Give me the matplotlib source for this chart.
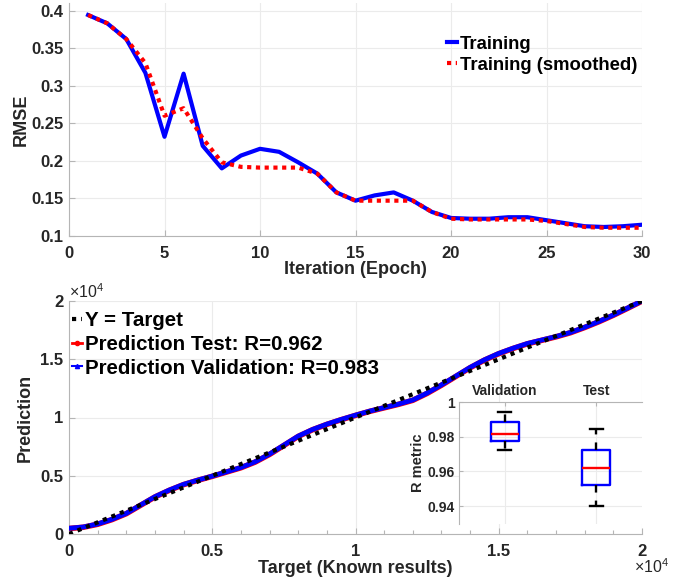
import matplotlib
matplotlib.use("Agg")
import matplotlib.pyplot as plt
from matplotlib.lines import Line2D
from matplotlib.ticker import FuncFormatter, MultipleLocator

plt.rcParams['font.family'] = ['Liberation Sans', 'DejaVu Sans']
plt.rcParams['font.weight'] = 'bold'
plt.rcParams['mathtext.default'] = 'regular'

# ---------------- data ----------------
epochs = list(range(1, 31))
rmse_train = [0.394, 0.383, 0.362, 0.317, 0.232, 0.316, 0.220, 0.190, 0.207, 0.216,
              0.212, 0.198, 0.183, 0.158, 0.147, 0.154, 0.158, 0.147, 0.132, 0.124,
              0.123, 0.123, 0.125, 0.125, 0.121, 0.117, 0.113, 0.112, 0.113, 0.115]
rmse_smooth = [0.394, 0.383, 0.362, 0.330, 0.260, 0.270, 0.230, 0.198, 0.192, 0.191,
               0.191, 0.191, 0.183, 0.158, 0.147, 0.147, 0.147, 0.147, 0.132, 0.123,
               0.122, 0.122, 0.122, 0.122, 0.120, 0.116, 0.112, 0.111, 0.111, 0.111]

target = [0, 500, 1000, 1500, 2000, 2500, 3000, 3500, 4000, 4500, 5000,
          5500, 6000, 6500, 7000, 7500, 8000, 8500, 9000, 9500, 10000,
          10500, 11000, 11500, 12000, 12500, 13000, 13500, 14000, 14500, 15000,
          15500, 16000, 16500, 17000, 17500, 18000, 18500, 19000, 19500, 20000]
pred_validation = [490, 600, 860, 1260, 1770, 2490, 3200, 3770, 4260, 4630, 4970,
                   5340, 5710, 6200, 6860, 7630, 8400, 8970, 9430, 9830, 10200,
                   10550, 10850, 11150, 11500, 12100, 12800, 13550, 14300, 14950, 15500,
                   15950, 16350, 16650, 16950, 17300, 17750, 18250, 18800, 19400, 20000]
pred_test = [470, 580, 835, 1235, 1745, 2465, 3180, 3750, 4240, 4610, 4950,
             5320, 5685, 6175, 6830, 7600, 8375, 8950, 9410, 9810, 10180,
             10530, 10830, 11130, 11475, 12070, 12770, 13520, 14270, 14925, 15475,
             15925, 16325, 16625, 16925, 17275, 17725, 18225, 18775, 19375, 19990]
ideal = [0, 20000]

box_labels = ['Validation', 'Test']
box_whislo = [0.9726, 0.9402]
box_q1 = [0.9777, 0.9524]
box_med = [0.9817, 0.9617]
box_q3 = [0.9887, 0.9726]
box_whishi = [0.9941, 0.9844]

# ---------------- style ----------------
SPINE = '#b5b5b5'
GRID = '#ebebeb'
TXT = '#262626'

def style(ax, size=12):
    for s in ['top', 'right']:
        ax.spines[s].set_visible(False)
    for s in ['left', 'bottom']:
        ax.spines[s].set_color(SPINE)
    ax.tick_params(direction='in', length=4, color=SPINE, labelcolor=TXT,
                   labelsize=size, width=0.8)
    ax.tick_params(axis='x', pad=7)
    ax.tick_params(axis='y', pad=4)
    ax.grid(True, color=GRID, lw=0.8)
    ax.set_axisbelow(True)

gfmt = FuncFormatter(lambda v, p: '%g' % round(v, 4))
e4fmt = FuncFormatter(lambda v, p: '%g' % round(v / 1e4, 4))

fig = plt.figure(figsize=(6.97, 5.82), dpi=100)
W, H = 697.0, 582.0
ax1 = fig.add_axes([69 / W, 1 - 236 / H, 573 / W, 233 / H])
ax2 = fig.add_axes([69 / W, 1 - 534 / H, 573 / W, 233 / H])
ax3 = fig.add_axes([459 / W, 1 - 523.5 / H, 183 / W, 121.5 / H])

# ---------------- top plot ----------------
style(ax1)
ax1.plot(epochs, rmse_train, color='blue', lw=3, label='Training', zorder=3)
ax1.plot(epochs, rmse_smooth, color='red', lw=3, linestyle=(0, (1, 1.1)),
         dash_capstyle='butt', label='Training (smoothed)', zorder=4)
ax1.set_xlim(0, 30)
ax1.set_ylim(0.1, 0.41)
ax1.set_xticks(range(0, 31, 5))
ax1.set_yticks([0.1, 0.15, 0.2, 0.25, 0.3, 0.35, 0.4])
ax1.yaxis.set_major_formatter(gfmt)
ax1.set_xlabel('Iteration (Epoch)', fontsize=13, fontweight='bold', color=TXT, labelpad=0)
ax1.set_ylabel('RMSE', fontsize=13, fontweight='bold', color=TXT, labelpad=1)
ax1.legend(loc='upper left', bbox_to_anchor=(0.66, 0.86), frameon=False,
           handlelength=0.55, handletextpad=0.12, labelspacing=0.22,
           borderpad=0, borderaxespad=0, prop={'weight': 'bold', 'size': 13.3})

# ---------------- bottom plot ----------------
style(ax2)
l_test, = ax2.plot(target, pred_test, color='red', lw=4.0, zorder=3)
l_val, = ax2.plot(target, pred_validation, color='blue', lw=3.5, zorder=4)
l_id, = ax2.plot(ideal, ideal, color='black', lw=3, linestyle=(0, (1, 1.2)),
                 dash_capstyle='butt', zorder=5)
ax2.set_xlim(0, 20000)
ax2.set_ylim(0, 20000)
ax2.set_xticks([0, 5000, 10000, 15000, 20000])
ax2.set_yticks([0, 5000, 10000, 15000, 20000])
ax2.xaxis.set_minor_locator(MultipleLocator(1000))
ax2.tick_params(which='minor', direction='in', length=3, color=SPINE, width=0.8)
ax2.xaxis.set_major_formatter(e4fmt)
ax2.yaxis.set_major_formatter(e4fmt)
ax2.set_xlabel('Target (Known results)', fontsize=13, fontweight='bold', color=TXT, labelpad=1)
ax2.set_ylabel('Prediction', fontsize=13, fontweight='bold', color=TXT, labelpad=5)
ax2.text(0.0, 0.998, '×10$^{4}$', transform=ax2.transAxes, ha='left', va='bottom',
         fontsize=11.5, fontweight='normal', color=TXT)
ax2.text(1.016, -0.142, '×10$^{4}$', transform=ax2.transAxes, ha='center', va='center',
         fontsize=11.5, fontweight='normal', color=TXT)

h_id = Line2D([], [], color='black', lw=3, linestyle=(0, (1, 1.2)), dash_capstyle='butt')
h_test = Line2D([], [], color='red', lw=2, marker='o', markersize=3)
h_val = Line2D([], [], color='blue', lw=1.5, marker='^', markersize=3)
ax2.legend([h_id, h_test, h_val],
           ['Y = Target', 'Prediction Test: R=0.962', 'Prediction Validation: R=0.983'],
           loc='upper left', bbox_to_anchor=(0.005, 0.955), frameon=False,
           handlelength=0.5, handletextpad=0.12, labelspacing=0.22,
           borderpad=0, borderaxespad=0, prop={'weight': 'bold', 'size': 14.8})

# ---------------- inset boxplot ----------------
ax3.set_facecolor('white')
ax3.set_zorder(10)
for s in ['bottom', 'right']:
    ax3.spines[s].set_visible(False)
for s in ['left', 'top']:
    ax3.spines[s].set_color(SPINE)
ax3.grid(True, color=GRID, lw=0.8)
ax3.set_axisbelow(True)
stats = []
for i in range(2):
    stats.append(dict(label=box_labels[i], whislo=box_whislo[i], q1=box_q1[i],
                      med=box_med[i], q3=box_q3[i], whishi=box_whishi[i], fliers=[]))
ax3.bxp(stats, positions=[1, 2], widths=0.31, capwidths=0.14, showfliers=False,
        boxprops=dict(color='blue', lw=1.7),
        medianprops=dict(color='red', lw=1.7),
        whiskerprops=dict(color='black', lw=1.7, linestyle=(0, (3.2, 3.4))),
        capprops=dict(color='black', lw=1.7))
ax3.set_xlim(0.5, 2.5)
ax3.set_ylim(0.93, 1.0)
ax3.set_yticks([0.94, 0.96, 0.98, 1.0])
ax3.yaxis.set_major_formatter(gfmt)
ax3.xaxis.tick_top()
ax3.set_xticks([1, 2])
ax3.set_xticklabels(box_labels)
ax3.tick_params(direction='in', length=3, color=SPINE, labelcolor=TXT, labelsize=10,
                width=0.8, pad=3)
ax3.set_ylabel('R metric', fontsize=10.5, fontweight='bold', color=TXT, labelpad=2)

fig.savefig('out.png', dpi=100)
